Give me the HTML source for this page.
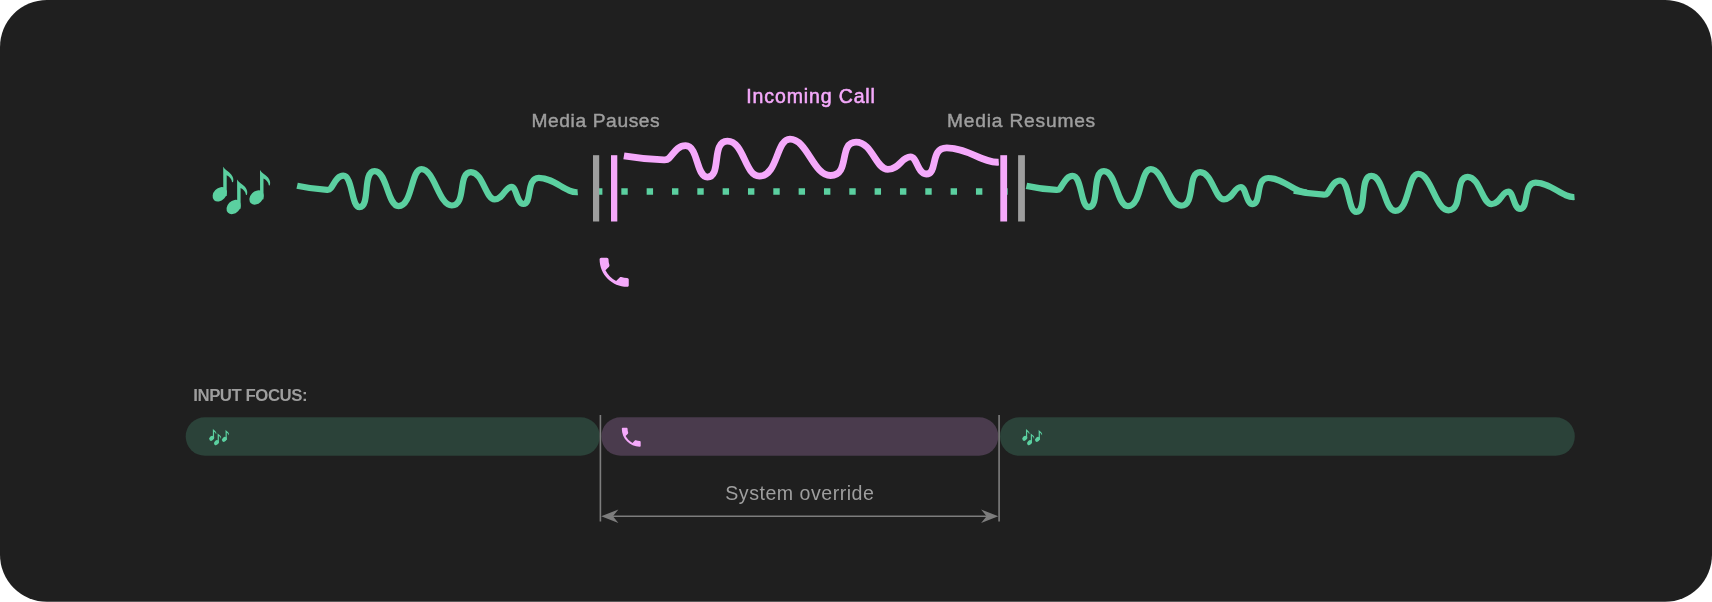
<!DOCTYPE html>
<html lang="en"><head><meta charset="utf-8"><title>Audio focus: incoming call</title>
<style>html,body{margin:0;padding:0;background:#fff}body{width:1712px;height:602px;overflow:hidden}svg{display:block;will-change:transform}text{font-family:"Liberation Sans",sans-serif}</style></head><body>
<svg width="1712" height="602" viewBox="0 0 1712 602">
<rect x="0" y="0" width="1712" height="601.8" rx="47" ry="47" fill="#1f1f1f"/>
<path d="M596 191.5H1008" stroke="#5bd0a0" stroke-width="6.4" stroke-dasharray="6.4 18.93" fill="none"/>
<path d="M297.1 185.8 Q312.05 189.12 327 189.85 Q329.4 190.1 330.6 188.5 C334.2 183.9 336.8 175.7 343.3 175.7 C352.8 175.7 351.1 207.1 359.6 207.1 C370.6 207.1 362.1 171.1 374.6 171.1 C387.1 171.1 387.5 206.1 398.5 206.1 C412.5 206.1 410.9 169.1 421.4 169.1 C434.4 169.1 438.8 205.5 451.8 205.5 C466.8 205.5 457.4 172.1 470.9 172.1 C482.9 172.1 485.6 199.3 494.6 199.3 C503.6 199.3 504.6 186.9 511.6 186.9 C516.6 186.9 516.9 204 523.4 204 C532.4 204 525.8 177.9 538.8 177.9 C554.8 177.9 565.7 193.2 577.7 192.2" stroke="#5bd0a0" fill="none" stroke-width="6.2" stroke-linejoin="round" stroke-linecap="butt"/>
<path d="M1026.4 185.9 Q1041.35 189.22 1056.3 189.95 Q1058.7 190.2 1059.9 188.6 C1063.5 184 1066.1 175.8 1072.6 175.8 C1082.1 175.8 1080.4 207.2 1088.9 207.2 C1099.9 207.2 1091.4 171.2 1103.9 171.2 C1116.4 171.2 1116.8 206.2 1127.8 206.2 C1141.8 206.2 1140.2 169.2 1150.7 169.2 C1163.7 169.2 1168.1 205.6 1181.1 205.6 C1196.1 205.6 1186.7 172.2 1200.2 172.2 C1212.2 172.2 1214.9 199.4 1223.9 199.4 C1232.9 199.4 1233.9 187 1240.9 187 C1245.9 187 1246.2 204.1 1252.7 204.1 C1261.7 204.1 1255.1 178 1268.1 178 C1284.1 178 1295 193.3 1307 192.3" stroke="#5bd0a0" fill="none" stroke-width="6.2" stroke-linejoin="round" stroke-linecap="butt"/>
<path d="M1293.9 190.6 Q1308.85 193.93 1323.8 194.65 Q1326.2 194.9 1327.4 193.3 C1331 188.7 1333.6 180.5 1340.1 180.5 C1349.6 180.5 1347.9 211.9 1356.4 211.9 C1367.4 211.9 1358.9 175.9 1371.4 175.9 C1383.9 175.9 1384.3 210.9 1395.3 210.9 C1409.3 210.9 1407.7 173.9 1418.2 173.9 C1431.2 173.9 1435.6 210.3 1448.6 210.3 C1463.6 210.3 1454.2 176.9 1467.7 176.9 C1479.7 176.9 1482.4 204.1 1491.4 204.1 C1500.4 204.1 1501.4 191.7 1508.4 191.7 C1513.4 191.7 1513.7 208.8 1520.2 208.8 C1529.2 208.8 1522.6 182.7 1535.6 182.7 C1551.6 182.7 1562.5 198 1574.5 197" stroke="#5bd0a0" fill="none" stroke-width="6.2" stroke-linejoin="round" stroke-linecap="butt"/>
<path d="M623.9 155.8 Q643.87 159.12 663.85 159.85 Q667.05 160.1 668.66 158.5 C673.47 153.9 676.94 145.7 685.62 145.7 C698.32 145.7 696.04 177.1 707.4 177.1 C722.1 177.1 710.74 141.1 727.44 141.1 C744.14 141.1 744.67 176.1 759.37 176.1 C778.07 176.1 775.94 139.1 789.96 139.1 C807.33 139.1 813.21 175.5 830.58 175.5 C850.62 175.5 838.06 142.1 856.1 142.1 C872.13 142.1 875.74 169.3 887.76 169.3 C899.78 169.3 901.12 156.9 910.47 156.9 C917.15 156.9 917.55 174 926.24 174 C938.26 174 929.44 147.9 946.81 147.9 C968.19 147.9 982.75 163.2 998.78 162.2" stroke="#f5a9fb" fill="none" stroke-width="6.8" stroke-linejoin="round" stroke-linecap="butt"/>
<rect x="593" y="155.2" width="6.2" height="66.3" fill="#9e9e9e"/>
<rect x="611" y="155.2" width="6.3" height="66.3" fill="#f5a9fb"/>
<rect x="1000.3" y="155.2" width="6.8" height="66.3" fill="#f5a9fb"/>
<rect x="1018.1" y="155.2" width="6.8" height="66.3" fill="#9e9e9e"/>
<g fill="#5bd0a0"><g transform="translate(0 0)"><ellipse cx="219.75" cy="194.3" rx="8.1" ry="6.1" transform="rotate(-46 219.75 194.3)"/><path d="M223.2 166.8C224.6 169.6 228.6 171.2 231.2 174.4C233.3 177 233.9 179.6 233 182.2L232 182C231.8 179.3 229.9 176.6 226.7 175.2L226.7 196L223.3 196Z"/></g><g transform="translate(13.9 12.7)"><ellipse cx="219.75" cy="194.3" rx="8.1" ry="6.1" transform="rotate(-46 219.75 194.3)"/><path d="M223.2 166.8C224.6 169.6 228.6 171.2 231.2 174.4C233.3 177 233.9 179.6 233 182.2L232 182C231.8 179.3 229.9 176.6 226.7 175.2L226.7 196L223.3 196Z"/></g><g transform="translate(36.8 3.2)"><ellipse cx="219.75" cy="194.3" rx="8.1" ry="6.1" transform="rotate(-46 219.75 194.3)"/><path d="M223.2 166.8C224.6 169.6 228.6 171.2 231.2 174.4C233.3 177 233.9 179.6 233 182.2L232 182C231.8 179.3 229.9 176.6 226.7 175.2L226.7 196L223.3 196Z"/></g></g>
<g fill="#f5a9fb"><path transform="translate(599.6 257.7) scale(1.62) translate(-3 -3)" d="M6.62 10.79c1.44 2.83 3.76 5.14 6.59 6.59l2.2-2.2c.27-.27.67-.36 1.02-.24 1.12.37 2.33.57 3.57.57.55 0 1 .45 1 1V20c0 .55-.45 1-1 1-9.39 0-17-7.61-17-17 0-.55.45-1 1-1h3.5c.55 0 1 .45 1 1 0 1.25.2 2.45.57 3.57.11.35.03.74-.25 1.02l-2.2 2.2z"/></g>
<text x="746.3" y="103.1" font-size="19.5" fill="#f5a9fb" stroke="#f5a9fb" stroke-width="0.55" textLength="128.6" lengthAdjust="spacing">Incoming Call</text>
<text x="531.5" y="127.4" font-size="19.2" fill="#9e9e9e" stroke="#9e9e9e" stroke-width="0.45" textLength="128.2" lengthAdjust="spacing">Media Pauses</text>
<text x="947.1" y="127.4" font-size="19.2" fill="#9e9e9e" stroke="#9e9e9e" stroke-width="0.45" textLength="148.1" lengthAdjust="spacing">Media Resumes</text>
<text x="193.3" y="401.4" font-size="16.8" font-weight="bold" fill="#9e9e9e" textLength="114.2" lengthAdjust="spacing">INPUT FOCUS:</text>
<text x="725.3" y="499.9" font-size="19.6" fill="#9e9e9e" textLength="148.6" lengthAdjust="spacing">System override</text>
<rect x="185.7" y="417.2" width="414.1" height="38.6" rx="19.3" fill="#2b4239"/>
<rect x="601.4" y="417.2" width="396.9" height="38.6" rx="19.3" fill="#4a3b4d"/>
<rect x="1000" y="417.2" width="574.8" height="38.6" rx="19.3" fill="#2b4239"/>
<g fill="#5bd0a0" transform="translate(209.1 428.8) scale(0.345) translate(-212.3 -166.9)"><g transform="translate(0 0)"><ellipse cx="219.75" cy="194.3" rx="8.1" ry="6.1" transform="rotate(-46 219.75 194.3)"/><path d="M223.2 166.8C224.6 169.6 228.6 171.2 231.2 174.4C233.3 177 233.9 179.6 233 182.2L232 182C231.8 179.3 229.9 176.6 226.7 175.2L226.7 196L223.3 196Z"/></g><g transform="translate(13.9 12.7)"><ellipse cx="219.75" cy="194.3" rx="8.1" ry="6.1" transform="rotate(-46 219.75 194.3)"/><path d="M223.2 166.8C224.6 169.6 228.6 171.2 231.2 174.4C233.3 177 233.9 179.6 233 182.2L232 182C231.8 179.3 229.9 176.6 226.7 175.2L226.7 196L223.3 196Z"/></g><g transform="translate(36.8 3.2)"><ellipse cx="219.75" cy="194.3" rx="8.1" ry="6.1" transform="rotate(-46 219.75 194.3)"/><path d="M223.2 166.8C224.6 169.6 228.6 171.2 231.2 174.4C233.3 177 233.9 179.6 233 182.2L232 182C231.8 179.3 229.9 176.6 226.7 175.2L226.7 196L223.3 196Z"/></g></g>
<g fill="#5bd0a0" transform="translate(1022.2 428.8) scale(0.345) translate(-212.3 -166.9)"><g transform="translate(0 0)"><ellipse cx="219.75" cy="194.3" rx="8.1" ry="6.1" transform="rotate(-46 219.75 194.3)"/><path d="M223.2 166.8C224.6 169.6 228.6 171.2 231.2 174.4C233.3 177 233.9 179.6 233 182.2L232 182C231.8 179.3 229.9 176.6 226.7 175.2L226.7 196L223.3 196Z"/></g><g transform="translate(13.9 12.7)"><ellipse cx="219.75" cy="194.3" rx="8.1" ry="6.1" transform="rotate(-46 219.75 194.3)"/><path d="M223.2 166.8C224.6 169.6 228.6 171.2 231.2 174.4C233.3 177 233.9 179.6 233 182.2L232 182C231.8 179.3 229.9 176.6 226.7 175.2L226.7 196L223.3 196Z"/></g><g transform="translate(36.8 3.2)"><ellipse cx="219.75" cy="194.3" rx="8.1" ry="6.1" transform="rotate(-46 219.75 194.3)"/><path d="M223.2 166.8C224.6 169.6 228.6 171.2 231.2 174.4C233.3 177 233.9 179.6 233 182.2L232 182C231.8 179.3 229.9 176.6 226.7 175.2L226.7 196L223.3 196Z"/></g></g>
<g fill="#f5a9fb"><path transform="translate(621.8 427.8) scale(1.05) translate(-3 -3)" d="M6.62 10.79c1.44 2.83 3.76 5.14 6.59 6.59l2.2-2.2c.27-.27.67-.36 1.02-.24 1.12.37 2.33.57 3.57.57.55 0 1 .45 1 1V20c0 .55-.45 1-1 1-9.39 0-17-7.61-17-17 0-.55.45-1 1-1h3.5c.55 0 1 .45 1 1 0 1.25.2 2.45.57 3.57.11.35.03.74-.25 1.02l-2.2 2.2z"/></g>
<g stroke="#7d7d7d" stroke-width="1.6" fill="none"><path d="M600.4 415.1V521.4M999.1 415.1V521.4M606 516.3H993"/></g>
<g fill="#7d7d7d"><path d="M601.2 516.3L618.4 509.6L612.9 516.3L618.4 523Z"/><path d="M998.3 516.3L981.1 509.6L986.6 516.3L981.1 523Z"/></g>
</svg></body></html>
